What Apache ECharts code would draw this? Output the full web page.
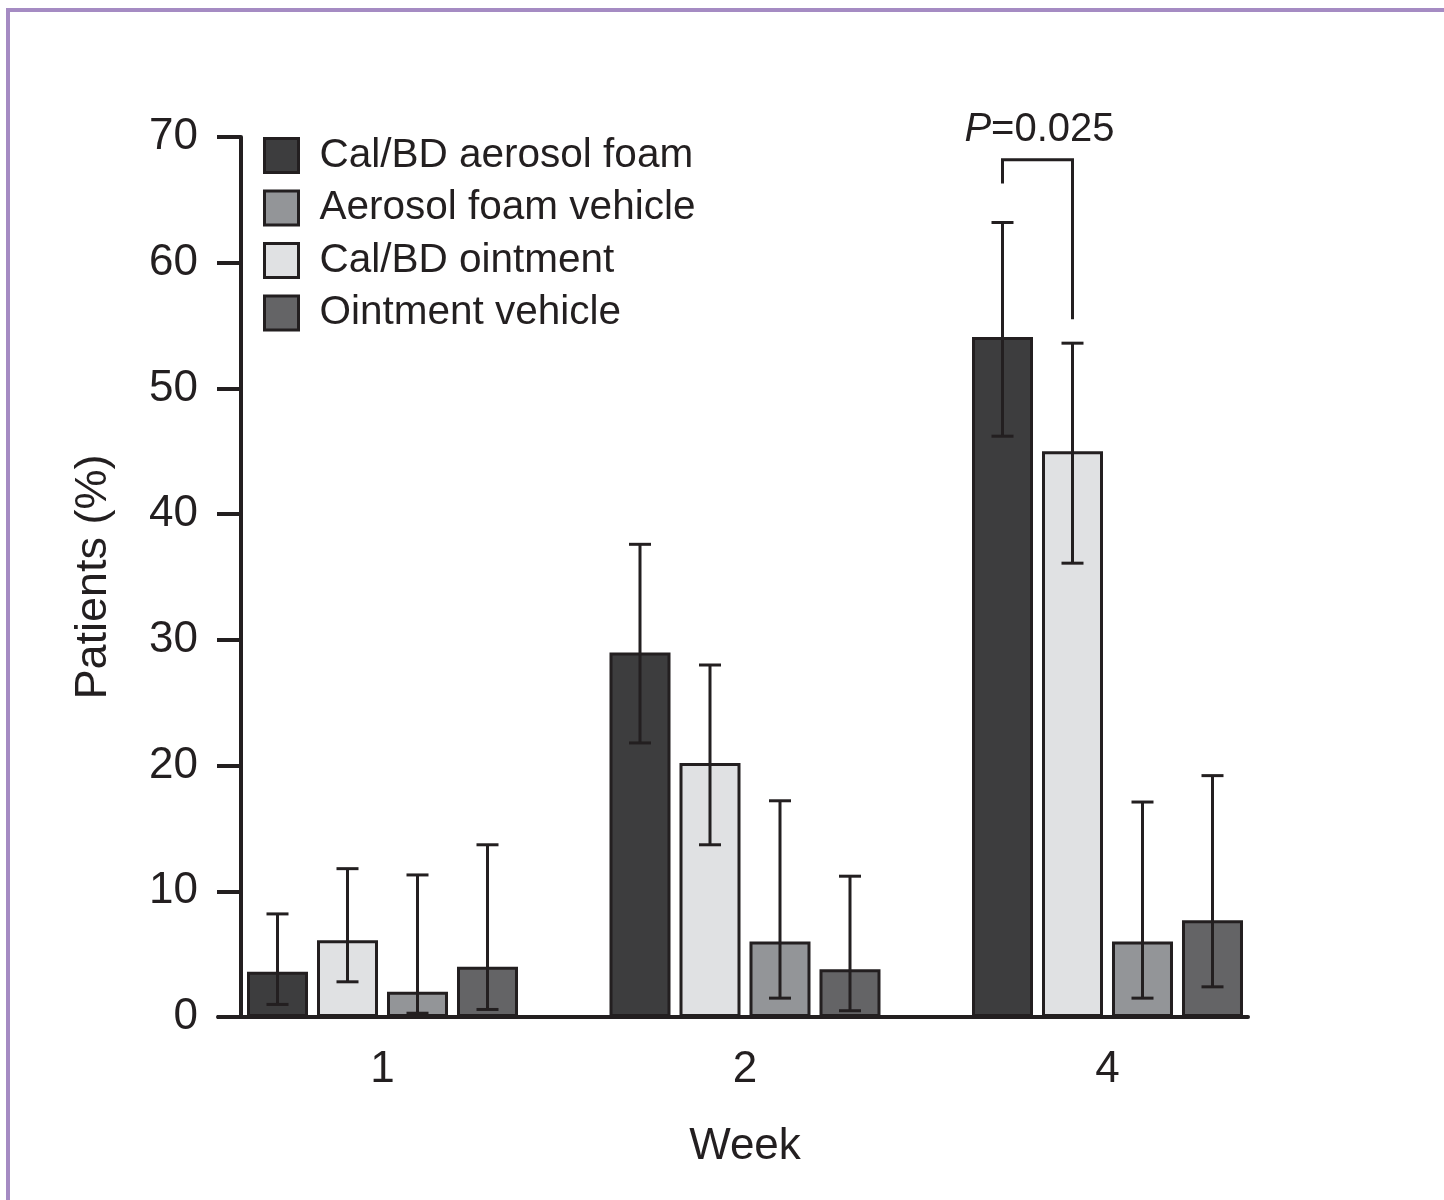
<!DOCTYPE html>
<html>
<head>
<meta charset="utf-8">
<title>Patients (%) by week</title>
<script src="https://cdn.jsdelivr.net/npm/echarts@6/dist/echarts.min.js"></script>
<style>
  html, body { margin: 0; padding: 0; background: #fff; }
  #wrap { position: relative; width: 1444px; height: 1200px; overflow: hidden; }
  #frame {
    position: absolute; left: 6px; top: 8px; width: 1500px; height: 1300px;
    border-left: 4px solid #a58bc3; border-top: 4px solid #a58bc3;
    box-sizing: border-box; pointer-events: none;
  }
  #chart { position: absolute; left: 0; top: 0; width: 1444px; height: 1200px; }
</style>
</head>
<body>
<div id="wrap">
  <div id="chart"></div>
  <div id="frame"></div>
</div>
<script>
// Weeks on the category axis
const weeks = ['1', '2', '4'];

// Treatment groups, in the order the bars appear within each week
const groupNames = ['Cal/BD aerosol foam', 'Cal/BD ointment', 'Aerosol foam vehicle', 'Ointment vehicle'];
// Legend order
const legendOrder = ['Cal/BD aerosol foam', 'Aerosol foam vehicle', 'Cal/BD ointment', 'Ointment vehicle'];

// Percent of patients per week
const foam = [3.6, 29.0, 54.1];
const ointment = [6.1, 20.2, 45.0];
const foamVehicle = [2.0, 6.0, 6.0];
const ointmentVehicle = [4.0, 3.8, 7.7];

// 95% confidence interval bounds
const foamLow = [1.0, 21.8, 46.2];
const foamHigh = [8.2, 37.6, 63.2];
const ointmentLow = [2.8, 13.7, 36.1];
const ointmentHigh = [11.8, 28.0, 53.6];
const foamVehicleLow = [0.3, 1.5, 1.5];
const foamVehicleHigh = [11.3, 17.2, 17.1];
const ointmentVehicleLow = [0.6, 0.5, 2.4];
const ointmentVehicleHigh = [13.7, 11.2, 19.2];

// Y axis ticks
const yMin = 0, yMax = 70, yStep = 10;

// Significance bracket at week 4 (foam vs ointment): left leg end, top, right leg end
const bracketWeek = 2;
const bracketLevels = [66.3, 68.2, 55.5];
const pLabel = 'P=0.025';

const values = [foam, ointment, foamVehicle, ointmentVehicle];
const lows = [foamLow, ointmentLow, foamVehicleLow, ointmentVehicleLow];
const highs = [foamHigh, ointmentHigh, foamVehicleHigh, ointmentVehicleHigh];
const fills = ['#3d3d3e', '#e0e1e3', '#939598', '#646466'];

const INK = '#231f20';
const FONT = '"Liberation Sans", Arial, Helvetica, sans-serif';
const BAR_W = 61;
const GAP_PX = 9;
const PITCH = BAR_W + GAP_PX;
const CAP = 11;

const errData = [];
for (let k = 0; k < 4; k++) {
  for (let c = 0; c < weeks.length; c++) {
    errData.push([c, lows[k][c], highs[k][c], k]);
  }
}

const barSeries = groupNames.map((name, k) => ({
  name: name,
  type: 'bar',
  xAxisIndex: 0,
  yAxisIndex: 0,
  barWidth: BAR_W,
  barGap: (GAP_PX / BAR_W * 100).toFixed(2) + '%',
  itemStyle: { color: fills[k], borderColor: INK, borderWidth: 3 },
  data: values[k]
}));

const errorSeries = {
  name: 'ci',
  type: 'custom',
  xAxisIndex: 0,
  yAxisIndex: 0,
  z: 5,
  data: errData,
  renderItem: function (params, api) {
    const c = api.value(0), lo = api.value(1), hi = api.value(2), k = api.value(3);
    const top = api.coord([c, hi]);
    const bot = api.coord([c, lo]);
    const x = top[0] + (k - 1.5) * PITCH;
    const st = { stroke: INK, lineWidth: 3 };
    return {
      type: 'group',
      children: [
        { type: 'line', shape: { x1: x, y1: top[1], x2: x, y2: bot[1] }, style: st },
        { type: 'line', shape: { x1: x - CAP, y1: top[1], x2: x + CAP, y2: top[1] }, style: st },
        { type: 'line', shape: { x1: x - CAP, y1: bot[1], x2: x + CAP, y2: bot[1] }, style: st }
      ]
    };
  }
};

const bracketSeries = {
  name: 'bracket',
  type: 'custom',
  xAxisIndex: 0,
  yAxisIndex: 0,
  z: 5,
  data: [[bracketWeek].concat(bracketLevels)],
  renderItem: function (params, api) {
    const c = api.value(0);
    const pl = api.coord([c, api.value(1)]);
    const pt = api.coord([c, api.value(2)]);
    const pr = api.coord([c, api.value(3)]);
    const xl = pt[0] - 1.5 * PITCH;
    const xr = pt[0] - 0.5 * PITCH;
    const st = { stroke: INK, lineWidth: 3, fill: null };
    return {
      type: 'group',
      children: [
        { type: 'polyline', shape: { points: [[xl, pl[1]], [xl, pt[1]], [xr, pt[1]], [xr, pr[1]]] }, style: st },
        {
          type: 'text',
          x: (xl + xr) / 2 + 2,
          y: pt[1] - 30,
          style: {
            text: '{i|P}=' + pLabel.split('=')[1],
            align: 'center',
            verticalAlign: 'middle',
            fill: INK,
            font: '40px ' + FONT,
            rich: { i: { fontStyle: 'italic', fontSize: 40, fontFamily: FONT, fill: INK } }
          }
        }
      ]
    };
  }
};

const chart = echarts.init(document.getElementById('chart'), null, { renderer: 'canvas' });
chart.setOption({
  animation: false,
  backgroundColor: '#ffffff',
  textStyle: { fontFamily: FONT, color: INK },
  legend: {
    data: legendOrder,
    orient: 'vertical',
    left: 263,
    top: 135,
    icon: 'rect',
    itemWidth: 34,
    itemHeight: 34,
    itemGap: 11.5,
    padding: 0,
    itemStyle: { borderColor: INK, borderWidth: 3 },
    textStyle: { fontSize: 40.5, fontFamily: FONT, color: INK, lineHeight: 40, padding: [0, 0, 0, 16] },
    selectedMode: false
  },
  grid: [
    { left: 201.25, right: 155.25, top: 137, bottom: 183 },
    { left: 218, right: 196, top: 137, bottom: 183 }
  ],
  xAxis: [
    {
      type: 'category',
      gridIndex: 0,
      data: weeks,
      axisLine: { show: false },
      axisTick: { show: false },
      axisLabel: { fontSize: 44, color: INK, fontFamily: FONT, margin: 31 },
      name: 'Week',
      nameLocation: 'middle',
      nameGap: 108,
      nameTextStyle: { fontSize: 44, color: INK, fontFamily: FONT }
    },
    {
      type: 'value',
      gridIndex: 1,
      min: 0,
      max: 1,
      axisLine: { show: true, onZero: false, lineStyle: { color: INK, width: 4 } },
      axisTick: { show: false },
      axisLabel: { show: false },
      splitLine: { show: false }
    }
  ],
  yAxis: [
    { type: 'value', gridIndex: 0, min: yMin, max: yMax, interval: yStep, show: false },
    {
      type: 'value',
      gridIndex: 1,
      min: yMin,
      max: yMax,
      interval: yStep,
      offset: -23,
      axisLine: { show: true, onZero: false, lineStyle: { color: INK, width: 4 } },
      axisTick: { show: true, inside: false, length: 24, lineStyle: { color: INK, width: 4 } },
      axisLabel: { fontSize: 44, color: INK, fontFamily: FONT, margin: 43 },
      splitLine: { show: false },
      name: 'Patients (%)',
      nameLocation: 'middle',
      nameRotate: 90,
      nameGap: 125,
      nameTextStyle: { fontSize: 45, color: INK, fontFamily: FONT }
    }
  ],
  series: barSeries.concat([errorSeries, bracketSeries])
});
</script>
</body>
</html>
